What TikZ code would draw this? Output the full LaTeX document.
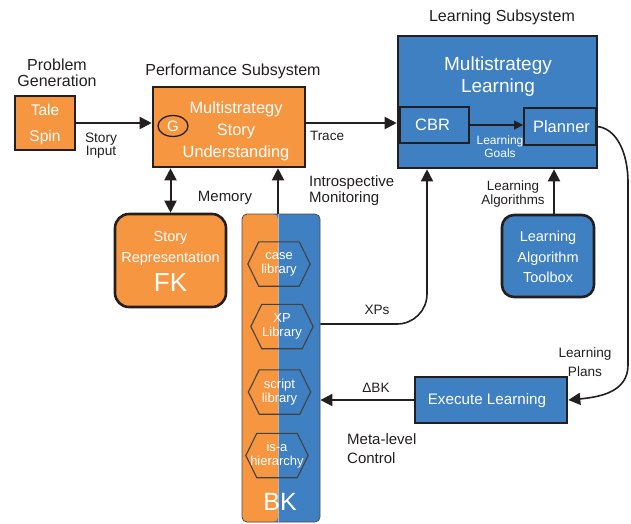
\documentclass[tikz,border=0pt]{standalone}
\usepackage{fontspec}
\setmainfont{Liberation Sans}
\usetikzlibrary{arrows.meta,shapes.geometric,calc}
\definecolor{orng}{RGB}{247,150,64}
\definecolor{blu}{RGB}{62,128,194}
\definecolor{ink}{RGB}{35,31,32}
\newcommand\hexframe[1]{\draw[hexline] (#1.west) -- ([xshift=11pt]#1.north west) -- ([xshift=-11pt]#1.north east) -- (#1.east) -- ([xshift=-11pt]#1.south east) -- ([xshift=11pt]#1.south west) -- cycle;}
\begin{document}
\begin{tikzpicture}[x=1pt,y=-1pt,
  box/.style={draw=ink, line width=2.6pt, inner sep=0pt},
  obox/.style={box, fill=orng},
  bbox/.style={box, fill=blu},
  wtxt/.style={text=white, align=center, inner sep=0pt},
  ktxt/.style={text=ink, align=center, inner sep=0pt},
  conn/.style={draw=ink, line width=2pt, -{Triangle[length=12pt,width=12pt]}},
  thin/.style={draw=ink, line width=1.6pt, -{Triangle[length=12pt,width=12pt]}},
  hexnode/.style={wtxt, minimum width=62pt, minimum height=44pt, font=\fontsize{13}{14}\selectfont},
  hexline/.style={draw=ink!85, line width=1.1pt},
]
\useasboundingbox (0,0) rectangle (631,523);

% titles
\node[ktxt, font=\fontsize{16}{16}\selectfont] (pgtitle) at (57,73) {Problem\\Generation};
\node[ktxt, font=\fontsize{16}{16}\selectfont] (perftitle) at (233,71) {Performance Subsystem};
\node[ktxt, font=\fontsize{16}{16}\selectfont] (learntitle) at (502,17) {Learning Subsystem};

% Tale Spin
\node[obox, minimum width=60pt, minimum height=54pt] (tale) at (45,123) {};
\node[wtxt, font=\fontsize{15.5}{26}\selectfont] (talet) at (45,124) {Tale\\Spin};

% Performance
\node[obox, minimum width=152pt, minimum height=80pt] (perf) at (229,127) {};
\node[wtxt, font=\fontsize{16.4}{22}\selectfont] (perft) at (236,131) {Multistrategy\\Story\\Understanding};
\node[draw=ink, line width=1.3pt, ellipse, minimum width=30pt, minimum height=21pt, inner sep=0pt, text=white, font=\fontsize{15}{15}\selectfont] (g) at (173,126) {G};

% FK
\node[obox, rounded corners=14pt, minimum width=111pt, minimum height=93pt] (fk) at (170.5,260.5) {};
\node[wtxt, font=\fontsize{14.5}{21}\selectfont] (fkt1) at (170.5,248.5) {Story\\Representation};
\node[wtxt, font=\fontsize{26}{26}\selectfont] (fkt2) at (170.5,283) {FK};

% BK column
\node[draw=ink!80, line width=0.8pt, rounded corners=5pt, fill=blu, minimum width=78pt, minimum height=308pt, inner sep=0pt,
  path picture={\fill[orng] (path picture bounding box.north west) rectangle ([xshift=-3pt]path picture bounding box.south);}] (bk) at (281,368) {};
\coordinate (bkdiv) at (278,214);
\draw[gray!55, line width=0.9pt] (bkdiv) -- (278,522);
\node[wtxt, font=\fontsize{25}{25}\selectfont] (bklab) at (280,502) {BK};

\node[hexnode] (case) at (279,264) {case\\library};
\node[hexnode] (xp) at (282,326.5) {XP\\Library};
\node[hexnode] (script) at (279.5,392) {script\\library};
\node[hexnode] (isa) at (277,455.5) {is-a\\hierarchy};
\hexframe{case}
\hexframe{xp}
\hexframe{script}
\hexframe{isa}

% Learning
\node[bbox, minimum width=199pt, minimum height=132pt] (learn) at (497.5,102) {};
\node[wtxt, font=\fontsize{19}{22}\selectfont] (learnt) at (498,77) {Multistrategy\\Learning};
\node[draw=ink, line width=1.8pt, fill=blu, minimum width=69pt, minimum height=36pt, inner sep=0pt, text=white, font=\fontsize{16.5}{16.5}\selectfont] (cbr) at (434.5,125) {\hspace*{-4pt}CBR};
\node[draw=ink, line width=1.8pt, fill=blu, minimum width=72pt, minimum height=37pt, inner sep=0pt, text=white, font=\fontsize{16.5}{16.5}\selectfont] (planner) at (560,126.5) {\hspace*{3pt}Planner};
\node[wtxt, font=\fontsize{12}{13}\selectfont] (lgoals) at (500,147) {Learning\\Goals};

% Toolbox
\node[bbox, rounded corners=12pt, minimum width=92pt, minimum height=82pt] (tool) at (548,256) {};
\node[wtxt, font=\fontsize{14.5}{20.5}\selectfont] (toolt) at (548,257) {Learning\\Algorithm\\Toolbox};

% Execute
\node[bbox, minimum width=152pt, minimum height=46pt] (exec) at (491,400) {};
\node[wtxt, font=\fontsize{15.2}{15.2}\selectfont] (exect) at (487,401) {Execute Learning};

% connectors
\draw[conn] (tale.east) -- (tale.east -| perf.west);
\draw[conn] (perf.east |- tale.east) -- (learn.west |- tale.east);
\draw[conn, {Triangle[length=12pt,width=12pt]}-{Triangle[length=12pt,width=12pt]}] (perf.south -| fk.north) -- (fk.north);
\draw[conn] (bkdiv) -- (bkdiv |- perf.south);
\draw[draw=ink, line width=1.5pt, -{Triangle[length=9pt,width=9pt]}] (cbr.east) -- (cbr.east -| planner.west);
\coordinate (xpend) at ([xshift=-70.5pt]learn.south);
\draw[thin, rounded corners=30pt] (bk.east |- 0,324) -| (xpend);
\draw[conn] ([xshift=6pt]tool.north) -- ([xshift=6pt]tool.north |- learn.south);
\coordinate (lp1) at (628,183);
\coordinate (lp2) at (628,365);
\draw[thin] (planner.east) .. controls (615,128) and (628,150) .. (lp1) -- (lp2) .. controls (628,392) and (600,397) .. (exec.east);
\draw[conn] (exec.west) -- (exec.west -| bk.east);

% labels
\node[ktxt, font=\fontsize{13.7}{13}\selectfont] (storyin) at (101,146) {Story\\Input};
\node[ktxt, font=\fontsize{13.5}{13.5}\selectfont] (trace) at (327,136) {Trace};
\node[ktxt, font=\fontsize{15}{15}\selectfont] (memory) at (225,198) {Memory};
\node[ktxt, font=\fontsize{15}{16}\selectfont, anchor=west, align=left] (intro) at (309,191) {Introspective\\Monitoring};
\node[ktxt, font=\fontsize{13.4}{14}\selectfont] (lalg) at (513,194.5) {Learning\\Algorithms};
\node[ktxt, font=\fontsize{13.6}{13.6}\selectfont] (xps) at (377,310) {XPs};
\node[ktxt, font=\fontsize{13.6}{18.5}\selectfont] (lplans) at (585,362) {Learning\\Plans};
\node[ktxt, font=\fontsize{13.6}{13.6}\selectfont] (dbk) at (376,388) {ΔBK};
\node[ktxt, font=\fontsize{15}{19}\selectfont, anchor=west, align=left] (meta) at (347,449) {Meta-level\\Control};
\end{tikzpicture}
\end{document}
